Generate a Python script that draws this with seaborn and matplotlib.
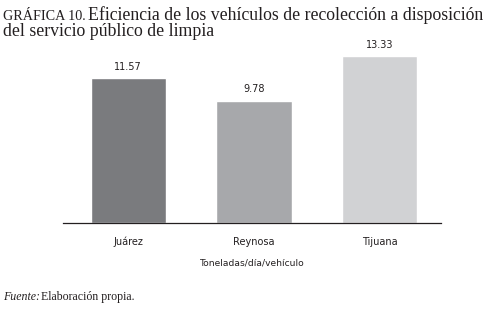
import matplotlib
matplotlib.use("Agg")
import matplotlib.pyplot as plt
import seaborn as sns
import pandas as pd

cities = ["Juárez", "Reynosa", "Tijuana"]
values = [11.57, 9.78, 13.33]
labels = ["11.57", "9.78", "13.33"]
colors = ["#7a7b7e", "#a7a8ab", "#d1d2d4"]

sns.set_theme(style="white")
plt.rcParams['font.family'] = ['DejaVu Sans']

df = pd.DataFrame({"city": cities, "value": values})

fig = plt.figure(figsize=(4.93, 3.10), dpi=100)
ax = fig.add_axes([63/493, 1-223/310, (441-63)/493, (223-48)/310])
sns.barplot(data=df, x="city", y="value", hue="city", palette=colors,
            legend=False, width=0.6, ax=ax, saturation=1)
ax.set_ylim(0, 14)
ax.set_xlim(-0.52, 2.49)
for sp in ["top", "right", "left"]:
    ax.spines[sp].set_visible(False)
ax.spines["bottom"].set_color("#231f20")
ax.spines["bottom"].set_linewidth(0.9)
ax.set_yticks([])
ax.set_ylabel("")
ax.set_xlabel("Toneladas/día/vehículo", fontsize=6.6, color="#231f20", labelpad=8)
ax.tick_params(axis="x", length=0, labelsize=7, colors="#231f20", pad=10)
for i, (v, t) in enumerate(zip(values, labels)):
    ax.text(i, v + 0.55, t, ha="center", va="bottom", fontsize=7, color="#231f20")

serif = "Liberation Serif"
fig.text(3/493, 1-20/310, "GRÁFICA 10.", fontsize=10.2, family=serif, color="#231f20")
fig.text(88/493, 1-20/310, "Eficiencia de los vehículos de recolección a disposición",
         fontsize=12.8, family=serif, color="#231f20")
fig.text(3/493, 1-36.5/310, "del servicio público de limpia",
         fontsize=12.8, family=serif, color="#231f20")
fig.text(3/493, 1-300/310, "Fuente:", fontsize=8.6, family=serif, style="italic", color="#231f20")
fig.text(41/493, 1-300/310, "Elaboración propia.", fontsize=8.6, family=serif, color="#231f20")

fig.savefig("out.png", dpi=100, facecolor="white")
